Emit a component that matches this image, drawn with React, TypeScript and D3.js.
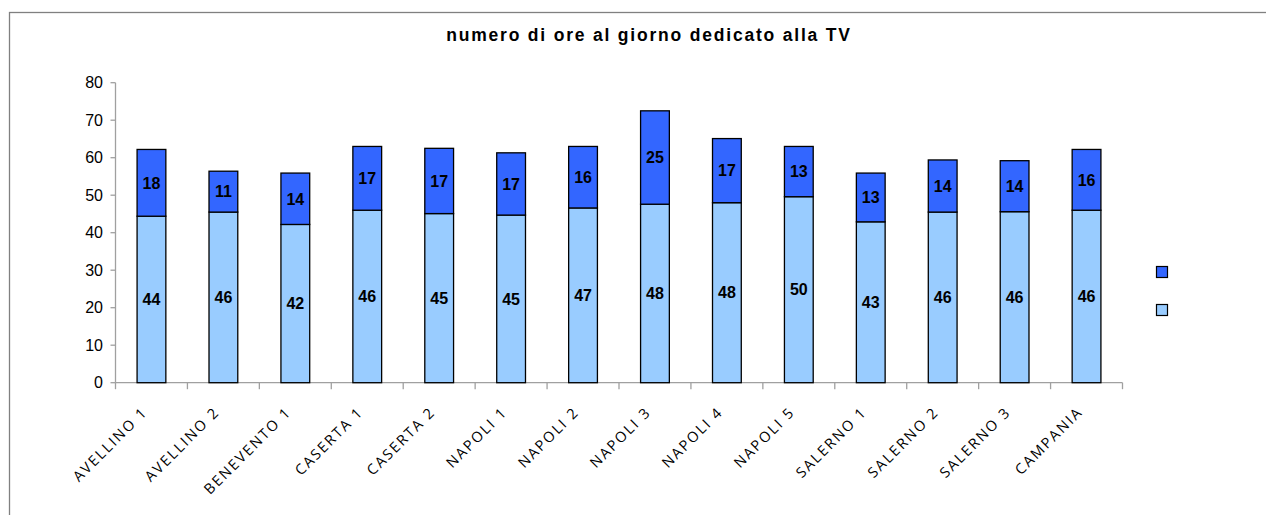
import React from "react";
import * as d3 from "d3";

const categories = [
  "AVELLINO 1", "AVELLINO 2", "BENEVENTO 1", "CASERTA 1", "CASERTA 2",
  "NAPOLI 1", "NAPOLI 2", "NAPOLI 3", "NAPOLI 4", "NAPOLI 5",
  "SALERNO 1", "SALERNO 2", "SALERNO 3", "CAMPANIA",
];
const lowerValues = [44.4, 45.5, 42.2, 46.0, 45.1, 44.7, 46.6, 47.6, 48.0, 49.6, 42.9, 45.5, 45.6, 46.0];
const upperValues = [17.8, 10.9, 13.7, 17.0, 17.4, 16.6, 16.4, 24.9, 17.1, 13.4, 13.0, 13.9, 13.6, 16.2];
const yTicks = [0, 10, 20, 30, 40, 50, 60, 70, 80];
const title = "numero di ore al giorno dedicato alla TV";

const W = 1266, H = 515;
const plot = { left: 115.5, right: 1122.5, top: 82.7, bottom: 382.7 };
const LIGHT = "#99CCFF";
const DARK = "#3366FF";
const AXIS = "#A0A0A0";

export default function App() {
  const x = d3.scaleBand<string>().domain(categories).range([plot.left, plot.right]).paddingInner(0.6).paddingOuter(0.3);
  const y = d3.scaleLinear().domain([0, 80]).range([plot.bottom, plot.top]);
  const step = x.step();
  const stacked = categories.map((c, i) => ({ c, l: lowerValues[i], u: upperValues[i] }));
  const fmt = (v: number) => String(Math.round(v));

  return (
    <svg width={W} height={H} style={{ position: "absolute", left: 0, top: 0, background: "#fff" }}
      fontFamily="'Liberation Sans', Arial, sans-serif">
      <rect x={9.5} y={12.5} width={W + 20} height={H + 20} fill="#fff" stroke="#808080" strokeWidth={1.3} />
      <text x={649} y={40.5} textAnchor="middle" fontSize={17.5} fontWeight="bold" letterSpacing={1.8} fill="#000">{title}</text>

      {/* y axis */}
      <line x1={plot.left} x2={plot.left} y1={y(80)} y2={y(0)} stroke={AXIS} strokeWidth={1.3} />
      {yTicks.map((t) => (
        <g key={t}>
          <line x1={plot.left - 5} x2={plot.left} y1={y(t)} y2={y(t)} stroke={AXIS} strokeWidth={1.3} />
          <text x={103} y={y(t)} dy="0.36em" textAnchor="end" fontSize={16} fill="#000">{t}</text>
        </g>
      ))}

      {/* x axis */}
      <line x1={plot.left} x2={plot.right} y1={y(0)} y2={y(0)} stroke={AXIS} strokeWidth={1.3} />
      {d3.range(categories.length + 1).map((i) => (
        <line key={i} x1={plot.left + i * step} x2={plot.left + i * step} y1={y(0)} y2={y(0) + 6.5} stroke={AXIS} strokeWidth={1.3} />
      ))}

      {/* bars */}
      {stacked.map((d) => {
        const bx = x(d.c)!;
        const bw = x.bandwidth();
        const cx = bx + bw / 2;
        return (
          <g key={d.c}>
            <rect x={bx} y={y(d.l)} width={bw} height={y(0) - y(d.l)} fill={LIGHT} stroke="#000" strokeWidth={1.3} />
            <rect x={bx} y={y(d.l + d.u)} width={bw} height={y(d.l) - y(d.l + d.u)} fill={DARK} stroke="#000" strokeWidth={1.3} />
            <text x={cx} y={(y(0) + y(d.l)) / 2} dy="0.36em" textAnchor="middle" fontSize={16} fontWeight="bold" fill="#000">{fmt(d.l)}</text>
            <text x={cx} y={(y(d.l) + y(d.l + d.u)) / 2} dy="0.36em" textAnchor="middle" fontSize={16} fontWeight="bold" fill="#000">{fmt(d.u)}</text>
          </g>
        );
      })}

      {/* x labels */}
      {categories.map((c) => {
        const cx = x(c)! + x.bandwidth() / 2;
        const px = cx - 3, py = 413;
        return (
          <text key={c} x={px} y={py} transform={`rotate(-45 ${px} ${py})`} textAnchor="end"
            fontFamily="'Open Sans', sans-serif" fontSize={14.5} letterSpacing={1.9} fill="#000">{c}</text>
        );
      })}

      {/* legend */}
      <rect x={1156.5} y={266.5} width={11} height={11} fill={DARK} stroke="#000" strokeWidth={1.2} />
      <rect x={1156.5} y={304.5} width={11} height={11} fill={LIGHT} stroke="#000" strokeWidth={1.2} />
    </svg>
  );
}
